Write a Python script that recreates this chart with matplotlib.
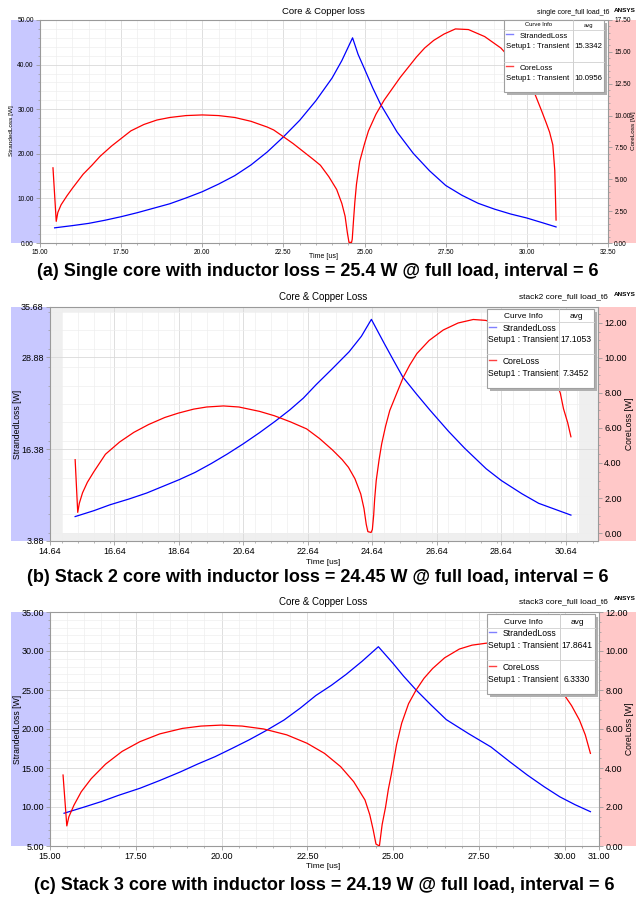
import matplotlib
matplotlib.use("Agg")
import matplotlib.pyplot as plt
from matplotlib.patches import Rectangle
from matplotlib.lines import Line2D
from matplotlib.ticker import FixedLocator, MultipleLocator, FormatStrFormatter

plt.rcParams['font.family'] = ['Liberation Sans', 'DejaVu Sans']

W, H = 636, 898

# ---------------- (a) single core ----------------
a_strand_t = [15.45, 16.0, 16.5, 17.0, 17.5, 18.0, 18.5, 19.0, 19.5, 20.0, 20.5, 21.0,
              21.5, 22.0, 22.5, 23.0, 23.5, 24.0, 24.3, 24.63,
              24.8, 25.0, 25.25, 25.5, 26.0, 26.5, 27.0, 27.5, 28.0, 28.5, 29.0, 29.5,
              30.0, 30.5, 30.9]
a_strand_w = [3.4, 3.9, 4.4, 5.1, 5.9, 6.8, 7.8, 8.8, 10.1, 11.5, 13.2, 15.1,
              17.5, 20.4, 23.8, 27.5, 31.9, 37.0, 40.9, 46.0,
              42.3, 39.0, 34.8, 31.0, 24.9, 20.1, 16.2, 12.9, 10.7, 8.9, 7.6, 6.5,
              5.6, 4.5, 3.6]
a_core_t = [15.40, 15.50, 15.55, 15.65, 15.83, 16.0, 16.33, 16.6, 16.85, 17.2, 17.5, 17.8,
            18.2, 18.6, 19.0, 19.5, 20.0, 20.5, 21.0, 21.5, 22.0, 22.2, 22.5, 22.8,
            23.1, 23.4, 23.64, 23.9, 24.14, 24.3, 24.4, 24.47, 24.52, 24.6,
            24.62, 24.66, 24.7, 24.75, 24.85, 25.0, 25.12, 25.35, 25.6, 25.85, 26.1,
            26.35, 26.6, 26.85, 27.13, 27.45, 27.8, 28.2, 28.7, 29.2, 29.7, 30.0, 30.2,
            30.45, 30.6, 30.7, 30.8, 30.86, 30.9]
a_core_w = [5.9, 1.7, 2.4, 3.0, 3.7, 4.3, 5.4, 6.1, 6.8, 7.6, 8.2, 8.8,
            9.3, 9.65, 9.85, 10.0, 10.05, 10.0, 9.85, 9.55, 9.1, 8.87, 8.34, 7.8,
            7.2, 6.6, 6.1, 5.2, 4.2, 3.1, 2.1, 0.8, 0.05, 0.05,
            0.3, 1.8, 3.2, 4.6, 6.4, 7.8, 8.8, 10.1, 11.2, 12.1, 13.0,
            13.8, 14.6, 15.3, 15.9, 16.4, 16.8, 16.75, 16.2, 15.3, 13.9, 12.9, 12.0,
            10.4, 9.4, 8.7, 7.7, 5.7, 1.8]
a_xticks = [15.0, 17.5, 20.0, 22.5, 25.0, 27.5, 30.0, 32.5]
a_lticks = [0.0, 10.0, 20.0, 30.0, 40.0, 50.0]
a_rticks = [0.0, 2.5, 5.0, 7.5, 10.0, 12.5, 15.0, 17.5]
a_avg = ["15.3342", "10.0956"]

# ---------------- (b) stack 2 core ----------------
b_strand_t = [15.42, 16.0, 16.5, 17.1, 17.64, 18.14, 18.64, 19.14, 19.64, 20.14, 20.64,
              21.14, 21.64, 22.08, 22.5, 22.89, 23.4, 23.92, 24.3, 24.61,
              25.0, 25.3, 25.58, 26.0, 26.42, 27.0, 27.5, 28.17, 28.64, 29.28,
              29.8, 30.3, 30.8]
b_strand_w = [7.2, 8.0, 8.8, 9.6, 10.4, 11.3, 12.2, 13.2, 14.4, 15.7, 17.1,
              18.6, 20.2, 21.7, 23.3, 25.1, 27.3, 29.6, 31.7, 34.0,
              30.8, 28.4, 26.2, 23.9, 21.7, 18.8, 16.5, 13.7, 12.1, 10.3,
              9.0, 8.2, 7.4]
b_core_t = [15.42, 15.50, 15.55, 15.65, 15.8, 16.0, 16.36, 16.8, 17.24, 17.7, 18.2,
            18.62, 19.1, 19.5, 20.02, 20.5, 21.14, 21.6, 22.1, 22.6, 23.0, 23.4,
            23.7, 23.9, 24.1, 24.28, 24.38, 24.45, 24.5, 24.6, 24.64, 24.68, 24.71,
            24.76, 24.85, 24.93, 25.05, 25.18, 25.4, 25.6, 25.8, 26.02, 26.4, 26.84,
            27.3, 27.77, 28.15, 28.6, 29.1, 29.6, 30.0, 30.3, 30.47, 30.57, 30.7, 30.8]
b_core_w = [4.19, 1.18, 1.7, 2.3, 2.9, 3.5, 4.5, 5.2, 5.75, 6.2, 6.6,
            6.85, 7.08, 7.2, 7.26, 7.2, 6.95, 6.7, 6.35, 5.95, 5.4, 4.75,
            4.2, 3.75, 3.1, 2.23, 1.4, 0.5, 0.08, 0.03, 0.2, 1.0, 1.9,
            3.0, 4.2, 5.1, 6.1, 7.0, 8.0, 8.9, 9.6, 10.25, 11.0, 11.6,
            12.0, 12.2, 12.15, 11.95, 11.5, 10.7, 9.7, 8.8, 8.0, 7.1, 6.3, 5.5]
b_xticks = [14.64, 16.64, 18.64, 20.64, 22.64, 24.64, 26.64, 28.64, 30.64]
b_lticks = [3.88, 16.38, 28.88, 35.68]
b_rticks = [0.0, 2.0, 4.0, 6.0, 8.0, 10.0, 12.0]
b_avg = ["17.1053", "7.3452"]

# ---------------- (c) stack 3 core ----------------
c_strand_t = [15.41, 16.0, 16.5, 17.0, 17.62, 18.2, 18.8, 19.3, 19.81, 20.3, 20.8, 21.3,
              21.82, 22.3, 22.75, 23.2, 23.63, 24.1, 24.57,
              25.0, 25.3, 25.67, 26.1, 26.55, 27.2, 27.85, 28.4, 28.91, 29.4, 29.86,
              30.3, 30.75]
c_strand_w = [9.2, 10.0, 10.7, 11.5, 12.4, 13.4, 14.5, 15.5, 16.45, 17.5, 18.6, 19.8,
              21.15, 22.7, 24.3, 25.6, 27.0, 28.7, 30.55,
              28.4, 26.8, 25.0, 23.1, 21.2, 19.4, 17.7, 15.8, 14.1, 12.6, 11.3,
              10.3, 9.4]
c_core_t = [15.38, 15.49, 15.55, 15.7, 15.91, 16.2, 16.62, 17.1, 17.62, 18.2, 18.86,
            19.4, 19.99, 20.6, 21.23, 21.9, 22.49, 23.0, 23.47, 23.85, 24.18, 24.32,
            24.42, 24.5, 24.6, 24.68, 24.78, 24.86, 24.95, 25.1, 25.25, 25.45, 25.67,
            25.9, 26.15, 26.5, 26.93, 27.3, 27.71, 28.2, 28.7, 29.2, 29.6, 29.99,
            30.2, 30.43, 30.6, 30.75]
c_core_w = [3.64, 1.03, 1.5, 2.1, 2.78, 3.45, 4.2, 4.85, 5.35, 5.75, 6.03,
            6.15, 6.2, 6.15, 6.0, 5.7, 5.27, 4.75, 4.07, 3.3, 2.36, 1.6,
            0.82, 0.1, 0.0, 1.1, 2.0, 2.9, 3.7, 5.2, 6.3, 7.3, 8.0,
            8.6, 9.1, 9.65, 10.1, 10.3, 10.4, 10.45, 10.2, 9.5, 8.7, 7.74,
            7.2, 6.46, 5.7, 4.75]
c_xticks = [15.0, 17.5, 20.0, 22.5, 25.0, 27.5, 30.0, 31.0]
c_lticks = [5.0, 10.0, 15.0, 20.0, 25.0, 30.0, 35.0]
c_rticks = [0.0, 2.0, 4.0, 6.0, 8.0, 10.0, 12.0]
c_avg = ["17.8641", "6.3330"]

captions = [
    "(a) Single core with inductor loss = 25.4 W @ full load, interval = 6",
    "(b) Stack 2 core with inductor loss = 24.45 W @ full load, interval = 6",
    "(c) Stack 3 core with inductor loss = 24.19 W @ full load, interval = 6",
]
titles = ["Core & Copper loss", "Core & Copper Loss", "Core & Copper Loss"]
subtitles = ["single core_full load_t6", "stack2 core_full load_t6", "stack3 core_full load_t6"]

BLUE = "#0000ff"
RED = "#ff0000"
BAND_BLUE = "#c8c8ff"
BAND_RED = "#ffc8c8"
SPINE = "#9a9a9a"

fig = plt.figure(figsize=(W / 100, H / 100), dpi=100)


def fx(x):
    return x / W


def fy(y):
    return 1 - y / H


def ftext(x, y, s, **kw):
    kw.setdefault("va", "center")
    fig.text(fx(x), fy(y), s, **kw)


def fline(x0, x1, y0, y1, color, lw=0.8, z=6):
    fig.add_artist(Line2D([fx(x0), fx(x1)], [fy(y0), fy(y1)], color=color, lw=lw,
                          transform=fig.transFigure, zorder=z))


def frect(x0, y0, x1, y1, fc, ec="none", lw=0.0, z=-1):
    fig.add_artist(Rectangle((fx(x0), fy(y1)), fx(x1) - fx(x0), fy(y0) - fy(y1),
                             transform=fig.transFigure, facecolor=fc, edgecolor=ec,
                             lw=lw, zorder=z))


def legend_box(x0, y0, x1, y1, xdiv, rows, avg, fs_head, fs, avg_shift):
    # shadow, box and column divider
    frect(x0 + 3, y0 + 3, x1 + 3, y1 + 3, "#b0b0b0", z=5)
    frect(x0, y0, x1, y1, "white", ec="#a0a0a0", lw=0.8, z=5.5)
    fline(xdiv, xdiv, y0, y1, "#c8c8c8", lw=0.6)
    yh, yline, ys, yss, ydiv, yc, ycs = rows
    fline(x0, x1, yline, yline, "#d0d0d0", lw=0.6)
    fline(x0, x1, ydiv, ydiv, "#d0d0d0", lw=0.6)
    ftext((x0 + xdiv) / 2, yh, "Curve Info", ha="center", fontsize=fs_head, zorder=7)
    ftext((xdiv + x1) / 2, yh, "avg", ha="center", fontsize=fs_head, zorder=7)
    fline(x0 + 2, x0 + 9, ys - 2, ys - 2, "#8080ff", lw=1.0, z=7)
    ftext(x0 + 16, ys, "StrandedLoss", ha="left", fontsize=fs, zorder=7)
    ftext(x0 + 1.5, yss, "Setup1 : Transient", ha="left", fontsize=fs, zorder=7)
    ftext(xdiv + 1.5, yss, avg[0], ha="left", fontsize=fs, zorder=7)
    fline(x0 + 2, x0 + 9, yc - 2, yc - 2, "#ff4040", lw=1.0, z=7)
    ftext(x0 + 16, yc, "CoreLoss", ha="left", fontsize=fs, zorder=7)
    ftext(x0 + 1.5, ycs, "Setup1 : Transient", ha="left", fontsize=fs, zorder=7)
    ftext(xdiv + avg_shift, ycs, avg[1], ha="left", fontsize=fs, zorder=7)


def panel(box, xlim, llim, rlim, xt, lt, rt, xminor, lminor, rminor,
          st, sw, ct, cw, tick_fs, shaded_margin=False):
    left, top, right, bottom = box
    # coloured axis bands
    frect(11, top, left, bottom, BAND_BLUE)
    frect(right, top, W, bottom, BAND_RED)

    ax = fig.add_axes([fx(left), fy(bottom), fx(right) - fx(left), fy(top) - fy(bottom)])
    ax.set_xlim(*xlim)
    ax.set_ylim(*llim)
    ax.set_axisbelow(True)
    if shaded_margin:
        ax.set_facecolor("#efefef")
        ax.add_patch(Rectangle((0.022, 0.034), 0.943, 0.946, transform=ax.transAxes,
                               facecolor="white", edgecolor="none", zorder=0.1))
    ax.xaxis.set_major_locator(FixedLocator(xt))
    ax.yaxis.set_major_locator(FixedLocator(lt))
    ax.xaxis.set_minor_locator(MultipleLocator(xminor))
    ax.yaxis.set_minor_locator(MultipleLocator(lminor))
    ax.xaxis.set_major_formatter(FormatStrFormatter("%.2f"))
    ax.yaxis.set_major_formatter(FormatStrFormatter("%.2f"))
    ax.grid(True, which="major", color="#d9d9d9", lw=0.6)
    ax.grid(True, which="minor", color="#eeeeee", lw=0.5)
    for s in ax.spines.values():
        s.set_color(SPINE)
        s.set_linewidth(0.8)
    ax.tick_params(which="major", direction="out", length=3, width=0.6, color=SPINE,
                   labelsize=tick_fs, pad=1.5)
    ax.tick_params(which="minor", direction="out", length=1.5, width=0.5, color=SPINE)
    ax.plot(st, sw, color=BLUE, lw=0.9, zorder=2)

    ax2 = ax.twinx()
    ax2.set_ylim(*rlim)
    ax2.yaxis.set_major_locator(FixedLocator(rt))
    ax2.yaxis.set_minor_locator(MultipleLocator(rminor))
    ax2.yaxis.set_major_formatter(FormatStrFormatter("%.2f"))
    for s in ax2.spines.values():
        s.set_visible(False)
    ax2.tick_params(which="major", direction="out", length=3, width=0.6, color=SPINE,
                    labelsize=tick_fs, pad=1.5)
    ax2.tick_params(which="minor", direction="out", length=1.5, width=0.5, color=SPINE)
    ax2.plot(ct, cw, color=RED, lw=0.9, zorder=2)
    return ax, ax2


# ---------------- panel (a) ----------------
panel((40, 20, 608, 243), (15.0, 32.5), (0.0, 50.0), (0.0, 17.5),
      a_xticks, a_lticks, a_rticks, 0.5, 2.0, 0.5,
      a_strand_t, a_strand_w, a_core_t, a_core_w, 4.8)
ftext(323, 12, titles[0], ha="center", fontsize=6.8)
ftext(609, 12, subtitles[0], ha="right", fontsize=5)
ftext(614, 10, "ANSYS", ha="left", fontsize=4.6, fontweight="bold")
ftext(323, 257, "Time [us]", ha="center", fontsize=5)
ftext(12, 131, "StrandedLoss [W]", ha="center", rotation=90, fontsize=4.6)
ftext(633.5, 131, "CoreLoss [W]", ha="center", rotation=90, fontsize=4.6)
legend_box(504, 20, 604, 92, 573, (25, 30, 36, 46, 62, 68, 78), a_avg, 4.2, 5.6, 1.0)
ftext(318, 271, captions[0], ha="center", fontsize=13, fontweight="bold")

# ---------------- panel (b) ----------------
panel((50, 307, 598, 541), (14.64, 31.64), (3.88, 35.68), (-0.457, 12.914),
      b_xticks, b_lticks, b_rticks, 0.5, 2.5, 0.5,
      b_strand_t, b_strand_w, b_core_t, b_core_w, 6.5, shaded_margin=True)
ftext(323, 297, titles[1], ha="center", fontsize=7)
ftext(608, 297, subtitles[1], ha="right", fontsize=6)
ftext(614, 294, "ANSYS", ha="left", fontsize=4.6, fontweight="bold")
ftext(323, 562, "Time [us]", ha="center", fontsize=6)
ftext(17, 424, "StrandedLoss [W]", ha="center", rotation=90, fontsize=6.2)
ftext(629, 424, "CoreLoss [W]", ha="center", rotation=90, fontsize=6.2)
legend_box(487, 309, 594, 388, 559, (316, 322, 329, 340, 354, 362, 373), b_avg, 6, 6.2, 4)
ftext(318, 578, captions[1], ha="center", fontsize=13, fontweight="bold")

# ---------------- panel (c) ----------------
panel((50, 612, 599, 846), (15.0, 31.0), (5.0, 35.0), (0.0, 12.0),
      c_xticks, c_lticks, c_rticks, 0.5, 1.0, 0.5,
      c_strand_t, c_strand_w, c_core_t, c_core_w, 6.5)
ftext(323, 602, titles[2], ha="center", fontsize=7)
ftext(608, 602, subtitles[2], ha="right", fontsize=6)
ftext(614, 599, "ANSYS", ha="left", fontsize=4.6, fontweight="bold")
ftext(323, 866, "Time [us]", ha="center", fontsize=6)
ftext(17, 729, "StrandedLoss [W]", ha="center", rotation=90, fontsize=6.2)
ftext(629, 729, "CoreLoss [W]", ha="center", rotation=90, fontsize=6.2)
legend_box(487, 614, 595, 694, 560, (622, 628, 634, 645, 660, 668, 679), c_avg, 6, 6.2, 4)
ftext(324, 885, captions[2], ha="center", fontsize=13, fontweight="bold")

fig.savefig("out.png", dpi=100)
